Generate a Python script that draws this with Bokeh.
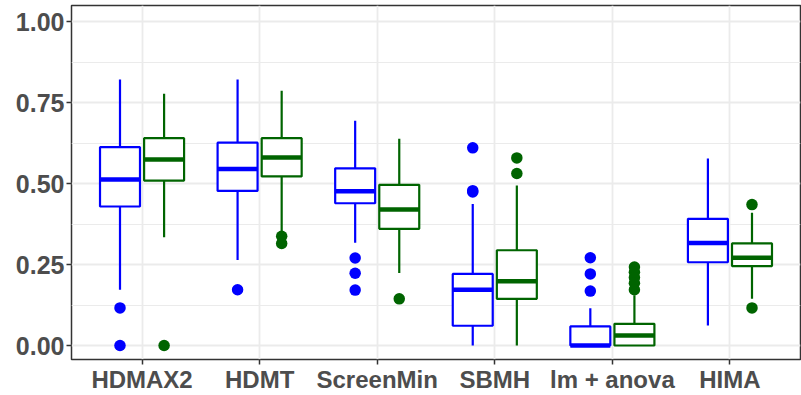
from bokeh.plotting import figure
from bokeh.embed import file_html
from bokeh.resources import INLINE
from bokeh.models import FixedTicker, Range1d, ColumnDataSource

# ---- data ----
categories = ["HDMAX2", "HDMT", "ScreenMin", "SBMH", "lm + anova", "HIMA"]

# blue series
blue_low = [0.172, 0.264, 0.317, 0.000, 0.000, 0.062]
blue_q1 = [0.429, 0.477, 0.439, 0.061, 0.000, 0.257]
blue_med = [0.512, 0.545, 0.476, 0.172, 0.000, 0.316]
blue_q3 = [0.612, 0.626, 0.547, 0.221, 0.059, 0.391]
blue_high = [0.821, 0.821, 0.694, 0.437, 0.115, 0.577]
blue_out = [[0.116, 0.0], [0.172], [0.270, 0.223, 0.171], [0.610, 0.478, 0.474],
            [0.271, 0.221, 0.168], []]

# green series
green_low = [0.334, 0.350, 0.224, 0.000, 0.000, 0.144]
green_q1 = [0.509, 0.522, 0.360, 0.144, 0.000, 0.245]
green_med = [0.574, 0.580, 0.420, 0.198, 0.031, 0.271]
green_q3 = [0.640, 0.640, 0.496, 0.294, 0.067, 0.315]
green_high = [0.777, 0.786, 0.638, 0.494, 0.155, 0.410]
green_out = [[0.0], [0.337, 0.315], [0.144], [0.579, 0.531],
             [0.242, 0.226, 0.210, 0.192, 0.172], [0.435, 0.116]]

y_ticks = [0.0, 0.25, 0.5, 0.75, 1.0]
y_minor = [0.125, 0.375, 0.625, 0.875]

BLUE = "#0000FF"
GREEN = "#006400"
TXT = "#4D4D4D"
GRID = "#EBEBEB"
FONT = "Liberation Sans"

p = figure(width=801, height=395, output_backend="svg", toolbar_location=None,
           x_range=Range1d(0.4, 6.6), y_range=Range1d(-0.0432, 1.0494))
p.min_border_left = 71
p.min_border_right = 1
p.min_border_top = 5
p.min_border_bottom = 34
p.background_fill_color = "white"
p.border_fill_color = "white"
p.outline_line_color = "#333333"
p.outline_line_width = 1.5

# grids
p.xgrid.ticker = FixedTicker(ticks=list(range(1, len(categories) + 1)))
p.xgrid.grid_line_color = GRID
p.xgrid.grid_line_width = 1.8
p.ygrid.ticker = FixedTicker(ticks=y_ticks, minor_ticks=y_minor)
p.ygrid.grid_line_color = GRID
p.ygrid.grid_line_width = 1.8
p.ygrid.minor_grid_line_color = GRID
p.ygrid.minor_grid_line_width = 1.0

# axes
p.xaxis.ticker = FixedTicker(ticks=list(range(1, len(categories) + 1)))
p.xaxis.major_label_overrides = {i + 1: c for i, c in enumerate(categories)}
p.yaxis.ticker = FixedTicker(ticks=y_ticks)
p.yaxis.major_label_overrides = {t: f"{t:.2f}" for t in y_ticks}
for ax in (p.xaxis, p.yaxis):
    ax.axis_line_color = None
    ax.major_tick_line_color = "#333333"
    ax.major_tick_line_width = 1.5
    ax.major_tick_out = 5
    ax.major_tick_in = 0
    ax.minor_tick_line_color = None
    ax.major_label_text_font = FONT
    ax.major_label_text_font_style = "bold"
    ax.major_label_text_color = TXT
p.xaxis.major_label_text_font_size = "24px"
p.xaxis.major_label_standoff = 1
p.xaxis.major_label_text_line_height = 1.0
p.yaxis.major_label_text_font_size = "25px"
p.yaxis.major_label_standoff = 2

OFF = 0.1875
HW = 0.17


def draw(offset, color, low, q1, med, q3, high, outs):
    xs = [i + 1 + offset for i in range(len(categories))]
    src = ColumnDataSource(dict(x=xs, l=[x - HW for x in xs], r=[x + HW for x in xs],
                                low=low, q1=q1, med=med, q3=q3, high=high))
    p.segment(x0="x", y0="q3", x1="x", y1="high", source=src, line_color=color, line_width=2.2)
    p.segment(x0="x", y0="q1", x1="x", y1="low", source=src, line_color=color, line_width=2.2)
    p.quad(left="l", right="r", bottom="q1", top="q3", source=src,
           fill_color="white", line_color=color, line_width=2.2)
    p.segment(x0="l", y0="med", x1="r", y1="med", source=src, line_color=color, line_width=4.5)
    ox, oy = [], []
    for x, vals in zip(xs, outs):
        for v in vals:
            ox.append(x)
            oy.append(v)
    p.scatter(ox, oy, size=11.5, fill_color=color, line_color=color, line_width=0)


draw(-OFF, BLUE, blue_low, blue_q1, blue_med, blue_q3, blue_high, blue_out)
draw(OFF, GREEN, green_low, green_q1, green_med, green_q3, green_high, green_out)

open("out.html", "w").write(file_html(p, INLINE))
